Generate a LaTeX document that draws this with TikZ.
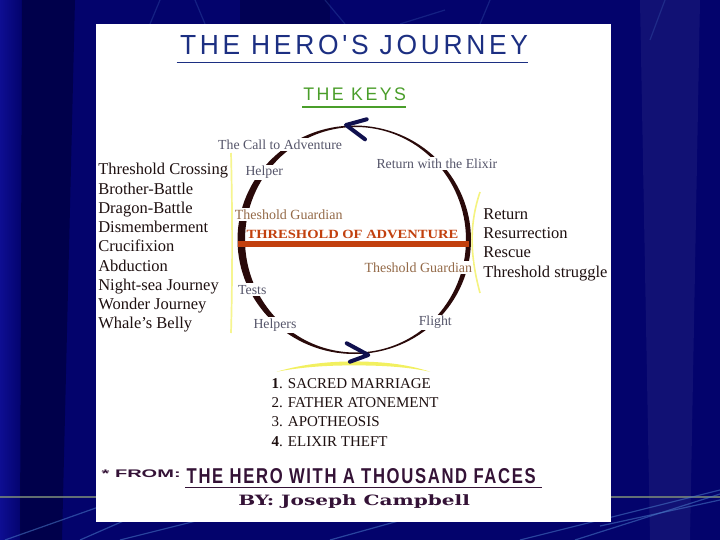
\documentclass[tikz,border=0pt]{standalone}
\usepackage{fontspec}
\setmainfont{Liberation Serif}
\newfontfamily\titlefont[LetterSpace=14]{Liberation Sans}
\newfontfamily\bookfont[LetterSpace=10]{Liberation Sans}
\newfontfamily\sansfont{Liberation Sans}
\newfontfamily\byfont{DejaVu Serif}
\definecolor{bgnavy}{HTML}{03036C}
\definecolor{bgdark}{HTML}{00003E}
\definecolor{bglight}{HTML}{0E0E92}
\definecolor{streak}{HTML}{4A7AC8}
\definecolor{streakgreen}{HTML}{7A8A78}
\definecolor{titleblue}{HTML}{1C2F82}
\definecolor{keygreen}{HTML}{4A9E2A}
\definecolor{arcbrown}{HTML}{2A0A0A}
\definecolor{barred}{HTML}{C2400E}
\definecolor{labgray}{HTML}{55556A}
\definecolor{labbrown}{HTML}{946A48}
\definecolor{listblack}{HTML}{1E1010}
\definecolor{chevron}{HTML}{10104E}
\definecolor{hiyellow}{HTML}{F2F060}
\definecolor{footpurple}{HTML}{341236}
\begin{document}
\begin{tikzpicture}[x=1pt,y=-1pt,
  txt/.style={anchor=base west, inner sep=0pt, outer sep=0pt},
  masked/.style={txt, fill=white, inner xsep=0.5pt, inner ysep=1.5pt},
  listtext/.style={txt, font=\fontsize{16.5}{19}\selectfont, text=listblack},
  labtext/.style={masked, font=\fontsize{13.8}{16}\selectfont, text=labgray},
  guardtext/.style={masked, font=\fontsize{14}{16}\selectfont, text=labbrown},
  capstext/.style={txt, font=\fontsize{15}{17}\selectfont, text=listblack},
  streakline/.style={draw=streak, line width=1.2pt, opacity=0.55}]
\useasboundingbox (0,0) rectangle (720,540);
% background
\fill[bgnavy] (0,0) rectangle (720,540);
\shade[left color=bglight, right color=bgnavy] (0,0) rectangle (22,540);
\fill[bgdark, opacity=0.7] (22,0) -- (75,0) -- (62,540) -- (20,540) -- cycle;
\fill[bgdark, opacity=0.5] (240,0) -- (330,0) -- (330,24) -- (240,24) -- cycle;
\fill[white, opacity=0.06] (640,0) -- (700,0) -- (690,540) -- (650,540) -- cycle;
\draw[streakline, opacity=0.25] (160,0) -- (150,24);
\draw[streakline, opacity=0.25] (195,0) -- (205,24);
\draw[streakline, opacity=0.25] (325,0) -- (345,24);
\draw[streakline, opacity=0.25] (400,24) -- (445,10);
\draw[streakline, opacity=0.25] (490,0) -- (480,24);
\draw[streakline, opacity=0.25] (665,0) -- (650,40);
\draw[streakgreen, line width=1.5pt, opacity=0.8] (0,497) -- (720,497);
\draw[streakline] (5,540) -- (110,503);
\draw[streakline] (80,540) -- (160,505);
\draw[streakline] (120,540) -- (260,505);
\draw[streakline] (330,540) -- (420,515);
\draw[streakline] (520,540) -- (720,490);
\draw[streakline] (575,540) -- (720,494);
\draw[streakline] (600,526) -- (720,500);
% white panel
\fill[white] (96,24) rectangle (611,521.5);
% title
\node[txt] (title) at (180,54.3) {\resizebox{348pt}{19.3pt}{\titlefont\color{titleblue}THE HERO'S JOURNEY}};
\draw[titleblue, line width=1.5pt] (176.7,62.7) -- (528.3,62.7);
\node[txt] (keys) at (303.3,101) {\resizebox{102.7pt}{12.7pt}{\titlefont\color{keygreen}THE KEYS}};
\draw[keygreen, line width=2.5pt] (302.3,107) -- (406,107);
% yellow highlights
\draw[hiyellow!70!white, line width=1.7pt] (231,153) .. controls (232.5,210) and (232.5,280) .. (231,333);
\draw[hiyellow!80!white, line width=1.6pt] (480,192) .. controls (470,222) and (469,252) .. (480,293);
\fill[hiyellow] (276.7,371.7) .. controls (305,363.5) and (330,361.6) .. (353.3,361.4) .. controls (380,361.6) and (405,363.5) .. (430,371.7)
  .. controls (405,366.5) and (380,365.4) .. (353.3,365.4) .. controls (330,365.4) and (305,366.5) .. (276.7,371.7) -- cycle;
% the cycle
\fill[arcbrown, even odd rule] (354.25,239.75) ellipse [x radius=116.75, y radius=114.25]
  (355.5,239.75) ellipse [x radius=110.5, y radius=112.75];
\fill[barred] (238,241) rectangle (469,246.5);
\draw[chevron, line width=4pt, line cap=round, line join=round] (366.7,119.3) -- (346,125) -- (365,139.3);
\draw[chevron, line width=4pt, line cap=round, line join=round] (346.7,343.3) -- (368.3,355) -- (350,361.7);
\node[txt] (threshold) at (246.7,238.3) {\resizebox{211.6pt}{8.3pt}{\bfseries\color{barred}THRESHOLD OF ADVENTURE}};
% labels round the cycle
\node[labtext] (call) at (217.7,149.3) {The Call to Adventure};
\node[labtext] (helper) at (245,176) {Helper};
\node[guardtext] (guardL) at (234.3,219) {Theshold Guardian};
\node[labtext] (tests) at (237.7,294) {Tests};
\node[labtext] (helpers) at (253,328.3) {Helpers};
\node[labtext] (elixir) at (376,168.3) {Return with the Elixir};
\node[guardtext] (guardR) at (364,272.3) {Theshold Guardian};
\node[labtext] (flight) at (418.3,325.7) {Flight};
% left list
\node[listtext] (l1) at (98.3,175) {Threshold Crossing};
\node[listtext] (l2) at (98.3,194.2) {Brother-Battle};
\node[listtext] (l3) at (98.3,213.4) {Dragon-Battle};
\node[listtext] (l4) at (98.3,232.6) {Dismemberment};
\node[listtext] (l5) at (98.3,251.8) {Crucifixion};
\node[listtext] (l6) at (98.3,271) {Abduction};
\node[listtext] (l7) at (98.3,290.2) {Night-sea Journey};
\node[listtext] (l8) at (98.3,309.4) {Wonder Journey};
\node[listtext] (l9) at (98.3,328.6) {Whale's Belly};
% right list
\node[listtext] (r1) at (483.3,219) {Return};
\node[listtext] (r2) at (483.3,238.4) {Resurrection};
\node[listtext] (r3) at (483.3,257.8) {Rescue};
\node[listtext] (r4) at (483.3,277.2) {Threshold struggle};
% bottom list
\node[capstext] (b1) at (271.7,388.3) {\textbf{1}. SACRED MARRIAGE};
\node[capstext] (b2) at (271.7,407.5) {2. FATHER ATONEMENT};
\node[capstext] (b3) at (271.7,426.7) {3. APOTHEOSIS};
\node[capstext] (b4) at (271.7,446) {\textbf{4}. ELIXIR THEFT};
% footer
\node[txt] (from) at (101.7,477.7) {\resizebox{79pt}{7.7pt}{\sansfont\bfseries\color{footpurple}* FROM:}};
\node[txt] (book) at (186.7,483.3) {\resizebox{349pt}{15pt}{\bookfont\bfseries\color{footpurple}THE HERO WITH A THOUSAND FACES}};
\draw[footpurple, line width=1pt] (185,487.7) -- (542.3,487.7);
\node[txt] (author) at (238.3,505.7) {\resizebox{231.7pt}{10.8pt}{\byfont\bfseries\color{footpurple}BY: Joseph Campbell}};
\end{tikzpicture}
\end{document}
